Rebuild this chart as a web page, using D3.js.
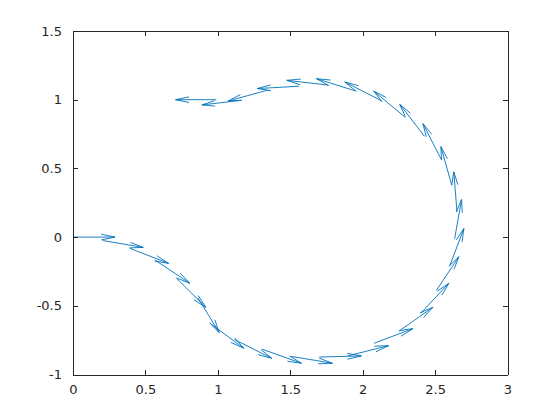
<!DOCTYPE html>
<html>
<head>
<meta charset="utf-8">
<script src="https://cdn.jsdelivr.net/npm/d3@7"></script>
<style>
  html, body { margin: 0; padding: 0; background: #ffffff; }
  svg { display: block; }
  .tick text { font-family: "DejaVu Sans", sans-serif; font-size: 13px; fill: #262626; }
</style>
</head>
<body>
<svg id="chart" width="560" height="420"></svg>
<script>
// Arrow start points (x, y) and vector components (u, v)
const qx = [0.000, 0.207, 0.393, 0.566, 0.715, 0.864, 0.950, 1.116, 1.306, 1.505,
            1.701, 1.899, 2.078, 2.252, 2.402, 2.509, 2.601, 2.635, 2.651, 2.615,
            2.543, 2.427, 2.294, 2.131, 1.956, 1.764, 1.560, 1.348, 1.160, 0.990];
const qy = [0.000, -0.025, -0.082, -0.167, -0.300, -0.444, -0.630, -0.746, -0.816, -0.868,
            -0.873, -0.864, -0.773, -0.683, -0.553, -0.388, -0.210, -0.012, 0.186, 0.378,
            0.565, 0.734, 0.872, 0.992, 1.062, 1.106, 1.098, 1.071, 0.995, 1.000];
const qu = [0.290, 0.278, 0.267, 0.241, 0.202, 0.145, 0.229, 0.256, 0.271, 0.286,
            0.290, 0.280, 0.269, 0.233, 0.193, 0.155, 0.098, 0.048, -0.022, -0.075,
            -0.127, -0.172, -0.218, -0.255, -0.275, -0.288, -0.289, -0.278, -0.270, -0.282];
const qv = [0.000, -0.050, -0.109, -0.169, -0.211, -0.251, -0.179, -0.136, -0.102, -0.050,
            0.008, 0.074, 0.107, 0.172, 0.217, 0.245, 0.273, 0.286, 0.289, 0.280,
            0.261, 0.233, 0.191, 0.137, 0.091, 0.035, -0.017, -0.081, -0.033, 0.000];

const xTicks = [0, 0.5, 1, 1.5, 2, 2.5, 3];
const yTicks = [-1, -0.5, 0, 0.5, 1, 1.5];
const xDomain = [0, 3];
const yDomain = [-1, 1.5];

const pLeft = 73, pRight = 507.5, pTop = 31, pBottom = 374.5;
const axisColor = "#262626";
const lineColor = "#0072BD";

const svg = d3.select("#chart");
const x = d3.scaleLinear().domain(xDomain).range([pLeft, pRight]);
const y = d3.scaleLinear().domain(yDomain).range([pBottom, pTop]);

// Quiver arrows (MATLAB-style heads)
const alpha = 0.33, beta = 0.22;
const data = qx.map((d, i) => ({x: qx[i], y: qy[i], u: qu[i], v: qv[i]}));
const g = svg.append("g");
data.forEach(d => {
  const tx = d.x + d.u, ty = d.y + d.v;
  const b1x = tx - alpha * (d.u + beta * d.v), b1y = ty - alpha * (d.v - beta * d.u);
  const b2x = tx - alpha * (d.u - beta * d.v), b2y = ty - alpha * (d.v + beta * d.u);
  const p = d3.path();
  p.moveTo(x(d.x), y(d.y)); p.lineTo(x(tx), y(ty));
  p.moveTo(x(b1x), y(b1y)); p.lineTo(x(tx), y(ty)); p.lineTo(x(b2x), y(b2y));
  g.append("path").attr("d", p.toString())
    .attr("fill", "none").attr("stroke", lineColor).attr("stroke-width", 0.9)
    .attr("stroke-linejoin", "miter");
});

// Axes (box with inward ticks)
const fmt = v => String(v);
const ax = svg.append("g");
ax.append("g").attr("transform", `translate(0,${pBottom})`)
  .call(d3.axisBottom(x).tickValues(xTicks).tickFormat(fmt).tickSizeInner(-5).tickSizeOuter(0).tickPadding(10));
ax.append("g").attr("transform", `translate(0,${pTop})`)
  .call(d3.axisTop(x).tickValues(xTicks).tickFormat("").tickSizeInner(-5).tickSizeOuter(0));
ax.append("g").attr("transform", `translate(${pLeft},0)`)
  .call(d3.axisLeft(y).tickValues(yTicks).tickFormat(fmt).tickSizeInner(-5).tickSizeOuter(0).tickPadding(11));
ax.append("g").attr("transform", `translate(${pRight},0)`)
  .call(d3.axisRight(y).tickValues(yTicks).tickFormat("").tickSizeInner(-5).tickSizeOuter(0));
ax.selectAll(".domain, .tick line").attr("stroke", axisColor).attr("stroke-width", 1)
  .attr("shape-rendering", "crispEdges");
ax.selectAll(".tick text").attr("fill", axisColor);
</script>
</body>
</html>
